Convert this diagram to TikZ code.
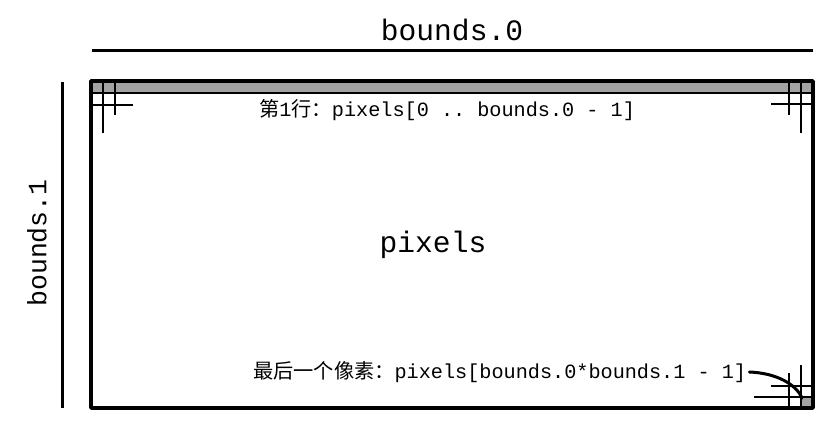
\documentclass[tikz,border=0pt]{standalone}
\usepackage{fontspec}
\setmainfont{Liberation Sans}
\setmonofont{Liberation Mono}
\newfontfamily\cjk{Noto Sans CJK SC}
\definecolor{pxgray}{HTML}{A3A3A3}
\begin{document}
\begin{tikzpicture}[x=1pt, y=-1pt, line join=round, >=stealth,
		label/.style={inner sep=0pt, font=\fontsize{20.2}{22}\selectfont\ttfamily},
		big/.style={inner sep=0pt, font=\fontsize{29.6}{30}\selectfont\ttfamily},
		grid/.style={line width=1.4pt}]
		\useasboundingbox (0,0) rectangle (839,429);
		% gray pixels
		\fill[pxgray] (91,81) rectangle (813,93);
		\fill[pxgray] (801,397) rectangle (813,408);
		\draw[grid] (91,93)--(813,93);
		% top left corner
		\draw[grid] (103,81)--(103,133) (115,81)--(115,115) (91,105)--(133,105);
		% top right corner
		\draw[grid] (789,81)--(789,115) (801,81)--(801,133) (771,104)--(813,104);
		% bottom right corner
		\draw[grid] (801,365)--(801,408) (789,373)--(789,408);
		\draw[grid] (771,386)--(813,386) (754,397)--(813,397);
		\draw[line width=3.6pt] (91,81) rectangle (813,408);
		% dimensions
		\draw[line width=3pt] (92,50)--(813,50);
		\draw[line width=3pt] (62,82)--(62,408);
		\node[big] (w) at (452,30) {bounds.0};
		\node[big, font=\fontsize{26.5}{28}\selectfont\ttfamily, rotate=90] (h) at (37,243) {bounds.1};
		\node[big] (px) at (433,245) {pixels};
		\node[label, anchor=west] (first) at (259,110) {{\cjk 第}1{\cjk 行：}pixels[0 .. bounds.0 - 1]};
		\node[label, anchor=west] (last) at (253,372) {{\cjk 最后一个像素：}pixels[bounds.0*bounds.1 - 1]};
		\coordinate (lastpx) at (802,398);
		\draw[line width=3pt, line cap=round] ([xshift=3pt]last.east) .. controls (776,373) and (796,384) .. (lastpx);
	\end{tikzpicture}
\end{document}
